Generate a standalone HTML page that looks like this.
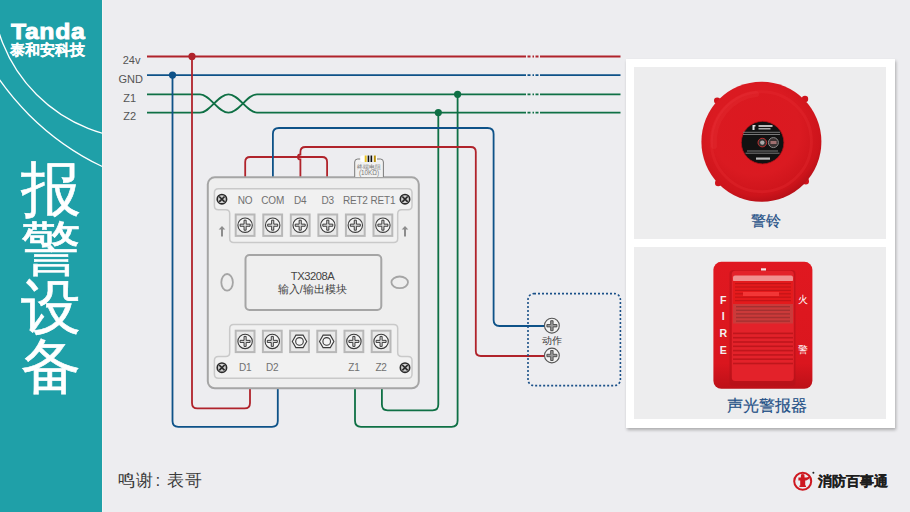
<!DOCTYPE html>
<html><head><meta charset="utf-8">
<style>
html,body{margin:0;padding:0;}
body{width:910px;height:512px;overflow:hidden;position:relative;background:#EDEDF0;font-family:"Liberation Sans",sans-serif;}
.side{position:absolute;left:0;top:0;width:102px;height:512px;background:#1FA0A8;overflow:hidden;}
.strip{position:absolute;left:102px;top:0;width:1px;height:512px;background:#F6F4F2;}
.abs{position:absolute;white-space:nowrap;}
.card{position:absolute;left:626px;top:58.6px;width:268.5px;height:369px;background:#fff;box-shadow:1px 2px 3px rgba(0,0,0,0.28);}
.panel{position:absolute;left:8px;width:252px;background:#EDEDEE;}
svg{position:absolute;left:0;top:0;}
</style></head>
<body>
<div class="side">
  <svg width="102" height="512" viewBox="0 0 102 512">
    <circle cx="144" cy="-13" r="152" fill="none" stroke="#fff" stroke-width="1.3"/>
    <circle cx="216.3" cy="-72.7" r="265" fill="none" stroke="#fff" stroke-width="1.3"/>
  </svg>
  <div class="abs" id="tanda" style="left:11px;top:18.3px;font-size:22.5px;font-weight:bold;color:#fff;letter-spacing:0.6px;line-height:28px;-webkit-text-stroke:0.9px #fff;transform:scaleX(1.1);transform-origin:0 0;">Tanda</div>
  <div class="abs" id="tah" style="left:10px;top:40.8px;font-size:15px;font-weight:bold;color:#fff;-webkit-text-stroke:0.2px #fff;line-height:18px;">泰和安科技</div>
  <div class="abs" id="title" style="left:20.5px;top:159.7px;font-size:60px;font-weight:400;color:#fff;-webkit-text-stroke:0.6px #fff;line-height:59.2px;width:62px;white-space:normal;">报警设备</div>
</div>
<div class="strip"></div>

<div class="card">
  <div class="panel" style="top:8.2px;height:172.2px;"></div>
  <div class="panel" style="top:188.4px;height:172.5px;"></div>
</div>

<svg id="diag" width="910" height="512" viewBox="0 0 910 512" font-family="Liberation Sans, sans-serif">
<path d="M147,56.5 H526 M527.5,56.5 H530.5 M532.5,56.5 H534 M535.5,56.5 H538.5 M540,56.5 H620.5" stroke="#B0232B" stroke-width="1.8" fill="none"/>
<path d="M147,75.19999999999999 H526 M527.5,75.19999999999999 H530.5 M532.5,75.19999999999999 H534 M535.5,75.19999999999999 H538.5 M540,75.19999999999999 H620.5" stroke="#0E5288" stroke-width="1.8" fill="none"/>
<path d="M147,94.4 H200 C210,94.4 218,112.6 228.5,112.6 C239,112.6 247,94.3 257,94.3 H526 M527.5,94.3 H530.5 M532.5,94.3 H534 M535.5,94.3 H538.5 M540,94.3 H620.5" stroke="#0F7045" stroke-width="1.8" fill="none"/>
<path d="M147,112.7 H200 C210,112.7 218,94.4 228.5,94.4 C239,94.4 247,112.6 257,112.6 H526 M527.5,112.6 H530.5 M532.5,112.6 H534 M535.5,112.6 H538.5 M540,112.6 H620.5" stroke="#0F7045" stroke-width="1.8" fill="none"/>
<text x="140.5" y="63.8" font-size="11" fill="#555" text-anchor="end" letter-spacing="0">24v</text>
<text x="143" y="82.8" font-size="11" fill="#555" text-anchor="end" letter-spacing="0">GND</text>
<text x="136" y="101.5" font-size="11" fill="#555" text-anchor="end" letter-spacing="0">Z1</text>
<text x="136" y="120" font-size="11" fill="#555" text-anchor="end" letter-spacing="0">Z2</text>
<path d="M192,56.4 V403 Q192,408.4 197.4,408.4 H244.6 Q250,408.4 250,403 V389" stroke="#B0232B" stroke-width="1.8" fill="none"/>
<path d="M172.5,75.1 V421 Q172.5,426.8 178.3,426.8 H272 Q277.8,426.8 277.8,421 V389" stroke="#0E5288" stroke-width="1.8" fill="none"/>
<path d="M457.6,94.3 V420.8 Q457.6,426.8 451.6,426.8 H361 Q355,426.8 355,420.8 V389" stroke="#0F7045" stroke-width="1.8" fill="none"/>
<path d="M438.3,112.6 V404.5 Q438.3,410.3 432.6,410.3 H387.6 Q381.9,410.3 381.9,404.5 V389" stroke="#0F7045" stroke-width="1.8" fill="none"/>
<circle cx="192" cy="56.4" r="3.6" fill="#B0232B"/>
<circle cx="172.5" cy="75.1" r="3.6" fill="#0E5288"/>
<circle cx="457.6" cy="94.3" r="3.6" fill="#0F7045"/>
<circle cx="438.3" cy="112.6" r="3.6" fill="#0F7045"/>
<path d="M245.2,177 V162 Q245.2,157 250.2,157 H322.1 Q327.1,157 327.1,162 V177" stroke="#B0232B" stroke-width="1.8" fill="none"/>
<path d="M300.4,177 V159.5 A2.5,2.5 0 0 1 300.4,154.5 V152 Q300.4,147 305.4,147 H470.8 Q475.8,147 475.8,152 V351 Q475.8,356 480.8,356 H545" stroke="#B0232B" stroke-width="1.8" fill="none"/>
<path d="M272.9,177 V134 Q272.9,128 278.9,128 H487.6 Q493.6,128 493.6,134 V320 Q493.6,326 499.6,326 H545" stroke="#0E5288" stroke-width="1.8" fill="none"/>
<rect x="207.8" y="177.3" width="211" height="211" rx="7" fill="#EEEEEE" stroke="#A5A5A5" stroke-width="2"/>
<path d="M218.5,188.8 H408 Q412,188.8 412,192.8 V205.8 Q412,209.8 408,209.8 H401.7 Q397.7,209.8 397.7,213.8 V238.6 Q397.7,242.6 393.7,242.6 H233.7 Q229.7,242.6 229.7,238.6 V213.8 Q229.7,209.8 225.7,209.8 H218.4 Q214.4,209.8 214.4,205.8 V192.8 Q214.4,188.8 218.4,188.8 Z" fill="#F1F1F1" stroke="#C9C9C9" stroke-width="1.5"/>
<path d="M233.7,324.4 H393.7 Q397.7,324.4 397.7,328.4 V352.4 Q397.7,356.4 401.7,356.4 H408 Q412,356.4 412,360.4 V374.3 Q412,378.3 408,378.3 H218.4 Q214.4,378.3 214.4,374.3 V360.4 Q214.4,356.4 218.4,356.4 H225.7 Q229.7,356.4 229.7,352.4 V328.4 Q229.7,324.4 233.7,324.4 Z" fill="#F1F1F1" stroke="#C9C9C9" stroke-width="1.5"/>
<text x="245.1" y="203.9" font-size="10" fill="#707070" text-anchor="middle" letter-spacing="-0.2">NO</text>
<rect x="235.7" y="214.5" width="18.8" height="21.4" fill="#E9E9E9" stroke="#B8B8B8" stroke-width="2"/>
<circle cx="245.1" cy="225.2" r="7.2" fill="#F4F4F4" stroke="#3A3A3A" stroke-width="1.1"/>
<path d="M244.04999999999998,220.2 H246.15 V224.14999999999998 H250.1 V226.25 H246.15 V230.2 H244.04999999999998 V226.25 H240.1 V224.14999999999998 H244.04999999999998 Z" fill="#DCDCDC" stroke="#2A2A2A" stroke-width="0.9"/>
<text x="272.7" y="203.9" font-size="10" fill="#707070" text-anchor="middle" letter-spacing="-0.2">COM</text>
<rect x="263.3" y="214.5" width="18.8" height="21.4" fill="#E9E9E9" stroke="#B8B8B8" stroke-width="2"/>
<circle cx="272.7" cy="225.2" r="7.2" fill="#F4F4F4" stroke="#3A3A3A" stroke-width="1.1"/>
<path d="M271.65,220.2 H273.75 V224.14999999999998 H277.7 V226.25 H273.75 V230.2 H271.65 V226.25 H267.7 V224.14999999999998 H271.65 Z" fill="#DCDCDC" stroke="#2A2A2A" stroke-width="0.9"/>
<text x="300.2" y="203.9" font-size="10" fill="#707070" text-anchor="middle" letter-spacing="-0.2">D4</text>
<rect x="290.8" y="214.5" width="18.8" height="21.4" fill="#E9E9E9" stroke="#B8B8B8" stroke-width="2"/>
<circle cx="300.2" cy="225.2" r="7.2" fill="#F4F4F4" stroke="#3A3A3A" stroke-width="1.1"/>
<path d="M299.15,220.2 H301.25 V224.14999999999998 H305.2 V226.25 H301.25 V230.2 H299.15 V226.25 H295.2 V224.14999999999998 H299.15 Z" fill="#DCDCDC" stroke="#2A2A2A" stroke-width="0.9"/>
<text x="327.8" y="203.9" font-size="10" fill="#707070" text-anchor="middle" letter-spacing="-0.2">D3</text>
<rect x="318.4" y="214.5" width="18.8" height="21.4" fill="#E9E9E9" stroke="#B8B8B8" stroke-width="2"/>
<circle cx="327.8" cy="225.2" r="7.2" fill="#F4F4F4" stroke="#3A3A3A" stroke-width="1.1"/>
<path d="M326.75,220.2 H328.85 V224.14999999999998 H332.8 V226.25 H328.85 V230.2 H326.75 V226.25 H322.8 V224.14999999999998 H326.75 Z" fill="#DCDCDC" stroke="#2A2A2A" stroke-width="0.9"/>
<text x="355.3" y="203.9" font-size="10" fill="#707070" text-anchor="middle" letter-spacing="-0.2">RET2</text>
<rect x="345.9" y="214.5" width="18.8" height="21.4" fill="#E9E9E9" stroke="#B8B8B8" stroke-width="2"/>
<circle cx="355.3" cy="225.2" r="7.2" fill="#F4F4F4" stroke="#3A3A3A" stroke-width="1.1"/>
<path d="M354.25,220.2 H356.35 V224.14999999999998 H360.3 V226.25 H356.35 V230.2 H354.25 V226.25 H350.3 V224.14999999999998 H354.25 Z" fill="#DCDCDC" stroke="#2A2A2A" stroke-width="0.9"/>
<text x="382.9" y="203.9" font-size="10" fill="#707070" text-anchor="middle" letter-spacing="-0.2">RET1</text>
<rect x="373.5" y="214.5" width="18.8" height="21.4" fill="#E9E9E9" stroke="#B8B8B8" stroke-width="2"/>
<circle cx="382.9" cy="225.2" r="7.2" fill="#F4F4F4" stroke="#3A3A3A" stroke-width="1.1"/>
<path d="M381.84999999999997,220.2 H383.95 V224.14999999999998 H387.9 V226.25 H383.95 V230.2 H381.84999999999997 V226.25 H377.9 V224.14999999999998 H381.84999999999997 Z" fill="#DCDCDC" stroke="#2A2A2A" stroke-width="0.9"/>
<rect x="235.7" y="330.7" width="18.8" height="21.4" fill="#E9E9E9" stroke="#B8B8B8" stroke-width="2"/>
<circle cx="245.1" cy="341.4" r="7.2" fill="#F4F4F4" stroke="#3A3A3A" stroke-width="1.1"/>
<path d="M244.04999999999998,336.4 H246.15 V340.34999999999997 H250.1 V342.45 H246.15 V346.4 H244.04999999999998 V342.45 H240.1 V340.34999999999997 H244.04999999999998 Z" fill="#DCDCDC" stroke="#2A2A2A" stroke-width="0.9"/>
<rect x="262.9" y="330.7" width="18.8" height="21.4" fill="#E9E9E9" stroke="#B8B8B8" stroke-width="2"/>
<circle cx="272.3" cy="341.4" r="7.2" fill="#F4F4F4" stroke="#3A3A3A" stroke-width="1.1"/>
<path d="M271.25,336.4 H273.35 V340.34999999999997 H277.3 V342.45 H273.35 V346.4 H271.25 V342.45 H267.3 V340.34999999999997 H271.25 Z" fill="#DCDCDC" stroke="#2A2A2A" stroke-width="0.9"/>
<rect x="290.1" y="330.7" width="18.8" height="21.4" fill="#E9E9E9" stroke="#B8B8B8" stroke-width="2"/>
<polygon points="306.70,341.40 303.10,347.64 295.90,347.64 292.30,341.40 295.90,335.16 303.10,335.16" fill="#F4F4F4" stroke="#3A3A3A" stroke-width="1.1"/>
<circle cx="299.5" cy="341.4" r="3.8" fill="none" stroke="#3A3A3A" stroke-width="1.1"/>
<rect x="317.3" y="330.7" width="18.8" height="21.4" fill="#E9E9E9" stroke="#B8B8B8" stroke-width="2"/>
<polygon points="333.90,341.40 330.30,347.64 323.10,347.64 319.50,341.40 323.10,335.16 330.30,335.16" fill="#F4F4F4" stroke="#3A3A3A" stroke-width="1.1"/>
<circle cx="326.7" cy="341.4" r="3.8" fill="none" stroke="#3A3A3A" stroke-width="1.1"/>
<rect x="344.5" y="330.7" width="18.8" height="21.4" fill="#E9E9E9" stroke="#B8B8B8" stroke-width="2"/>
<circle cx="353.9" cy="341.4" r="7.2" fill="#F4F4F4" stroke="#3A3A3A" stroke-width="1.1"/>
<path d="M352.84999999999997,336.4 H354.95 V340.34999999999997 H358.9 V342.45 H354.95 V346.4 H352.84999999999997 V342.45 H348.9 V340.34999999999997 H352.84999999999997 Z" fill="#DCDCDC" stroke="#2A2A2A" stroke-width="0.9"/>
<rect x="371.7" y="330.7" width="18.8" height="21.4" fill="#E9E9E9" stroke="#B8B8B8" stroke-width="2"/>
<circle cx="381.1" cy="341.4" r="7.2" fill="#F4F4F4" stroke="#3A3A3A" stroke-width="1.1"/>
<path d="M380.05,336.4 H382.15000000000003 V340.34999999999997 H386.1 V342.45 H382.15000000000003 V346.4 H380.05 V342.45 H376.1 V340.34999999999997 H380.05 Z" fill="#DCDCDC" stroke="#2A2A2A" stroke-width="0.9"/>
<text x="245.1" y="371.2" font-size="10" fill="#707070" text-anchor="middle" letter-spacing="-0.2">D1</text>
<text x="272.3" y="371.2" font-size="10" fill="#707070" text-anchor="middle" letter-spacing="-0.2">D2</text>
<text x="353.9" y="371.2" font-size="10" fill="#707070" text-anchor="middle" letter-spacing="-0.2">Z1</text>
<text x="381.1" y="371.2" font-size="10" fill="#707070" text-anchor="middle" letter-spacing="-0.2">Z2</text>
<circle cx="221.9" cy="199.2" r="4.7" fill="#D0D0D0" stroke="#2A2A2A" stroke-width="1.6"/><path d="M219.20000000000002,196.5 L224.6,201.89999999999998 M224.6,196.5 L219.20000000000002,201.89999999999998" stroke="#2A2A2A" stroke-width="1.7"/>
<circle cx="405" cy="199.2" r="4.7" fill="#D0D0D0" stroke="#2A2A2A" stroke-width="1.6"/><path d="M402.3,196.5 L407.7,201.89999999999998 M407.7,196.5 L402.3,201.89999999999998" stroke="#2A2A2A" stroke-width="1.7"/>
<circle cx="221.9" cy="367.7" r="4.7" fill="#D0D0D0" stroke="#2A2A2A" stroke-width="1.6"/><path d="M219.20000000000002,365.0 L224.6,370.4 M224.6,365.0 L219.20000000000002,370.4" stroke="#2A2A2A" stroke-width="1.7"/>
<circle cx="405" cy="367.7" r="4.7" fill="#D0D0D0" stroke="#2A2A2A" stroke-width="1.6"/><path d="M402.3,365.0 L407.7,370.4 M407.7,365.0 L402.3,370.4" stroke="#2A2A2A" stroke-width="1.7"/>
<path d="M222,236.6 V229" stroke="#8C8C8C" stroke-width="2" fill="none"/><path d="M218.7,229.4 L222,226 L225.3,229.4 Z" fill="#8C8C8C"/>
<path d="M405,236.6 V229" stroke="#8C8C8C" stroke-width="2" fill="none"/><path d="M401.7,229.4 L405,226 L408.3,229.4 Z" fill="#8C8C8C"/>
<rect x="245.5" y="255" width="135.8" height="55" rx="4" fill="#EFEFEF" stroke="#A5A5A5" stroke-width="2"/>
<ellipse cx="227.1" cy="282.3" rx="5.8" ry="8.3" fill="none" stroke="#A5A5A5" stroke-width="1.8"/>
<ellipse cx="399.7" cy="282.3" rx="8.3" ry="5.8" fill="none" stroke="#A5A5A5" stroke-width="1.8"/>
<text x="312.6" y="279.8" font-size="11.2" fill="#444" text-anchor="middle" letter-spacing="-0.45">TX3208A</text>
<text x="312.2" y="292.6" font-size="10.8" fill="#444" text-anchor="middle" letter-spacing="0">输入/输出模块</text>
<path d="M354.7,177 V162 Q354.7,159 357.7,159 H380.4 Q383.4,159 383.4,162 V177" fill="#F1F1F1" stroke="#7A7A7A" stroke-width="1"/>
<rect x="360.2" y="155.5" width="16.8" height="6.5" rx="2" fill="#FFFFFF"/>
<rect x="364.7" y="155.5" width="2" height="6.5" fill="#E8C020"/><rect x="367.6" y="155.5" width="1.7" height="6.5" fill="#111"/><rect x="370.5" y="155.5" width="1.7" height="6.5" fill="#111"/><rect x="373.8" y="155.5" width="2" height="6.5" fill="#B8900A"/>
<text x="369" y="168.6" font-size="6.3" fill="#7A7A7A" text-anchor="middle" letter-spacing="0">终端电阻</text>
<text x="369" y="175.4" font-size="6.3" fill="#7A7A7A" text-anchor="middle" letter-spacing="0">(10KΩ)</text>
<rect x="528" y="293.6" width="92.4" height="92" rx="6" fill="none" stroke="#1A5088" stroke-width="1.6" stroke-dasharray="2 2"/>
<circle cx="551.9" cy="325.7" r="7.4" fill="#F2F2F2" stroke="#555" stroke-width="1.1"/>
<path d="M550.6999999999999,320.7 H553.1 V324.5 H556.9 V326.9 H553.1 V330.7 H550.6999999999999 V326.9 H546.9 V324.5 H550.6999999999999 Z" fill="#9A9A9A" stroke="#484848" stroke-width="0.9"/>
<circle cx="551.9" cy="355.5" r="7.4" fill="#F2F2F2" stroke="#555" stroke-width="1.1"/>
<path d="M550.6999999999999,350.5 H553.1 V354.3 H556.9 V356.7 H553.1 V360.5 H550.6999999999999 V356.7 H546.9 V354.3 H550.6999999999999 Z" fill="#9A9A9A" stroke="#484848" stroke-width="0.9"/>
<text x="551.9" y="344.2" font-size="10.2" fill="#3C3C3C" text-anchor="middle" letter-spacing="0">动作</text>
<defs>
<radialGradient id="bellg" cx="0.45" cy="0.4" r="0.62">
 <stop offset="0" stop-color="#DC1820"/>
 <stop offset="0.6" stop-color="#DA1A21"/>
 <stop offset="0.88" stop-color="#CD141B"/>
 <stop offset="1" stop-color="#B50F17"/>
</radialGradient>
<linearGradient id="lensg" x1="0" y1="0" x2="0" y2="1">
 <stop offset="0" stop-color="#F7B0B0"/>
 <stop offset="0.12" stop-color="#F04848"/>
 <stop offset="0.35" stop-color="#E01818"/>
 <stop offset="0.6" stop-color="#D23030"/>
 <stop offset="1" stop-color="#C83838"/>
</linearGradient>
<linearGradient id="strg" x1="0" y1="0" x2="0" y2="1">
 <stop offset="0" stop-color="#E01820"/>
 <stop offset="0.8" stop-color="#DA161E"/>
 <stop offset="1" stop-color="#BC1018"/>
</linearGradient>
</defs>
<circle cx="717.2" cy="100.6" r="3.2" fill="#CF141B"/>
<circle cx="805" cy="99" r="3.2" fill="#CF141B"/>
<circle cx="718.2" cy="183" r="3.2" fill="#CF141B"/>
<circle cx="805.8" cy="181.2" r="3.2" fill="#CF141B"/>
<circle cx="761.4" cy="141.7" r="60" fill="url(#bellg)"/>
<circle cx="761.4" cy="141.7" r="50" fill="none" stroke="#E42A30" stroke-width="3" opacity="0.35"/>
<path d="M714,146 A48,48 0 0 1 756,94" fill="none" stroke="#FF6060" stroke-width="6" stroke-linecap="round" opacity="0.1"/>
<circle cx="762.6" cy="142.6" r="21.3" fill="#121212" stroke="#B50F16" stroke-width="0.8"/>
<path d="M752.5,125 h3 v1.5 h-1 v3.5 h-2 z" fill="#DDD"/><rect x="758.5" y="125" width="14" height="2" fill="#BBB"/><rect x="758.5" y="128" width="12" height="1.5" fill="#AAA"/>
<rect x="743" y="131.8" width="37" height="1" fill="#777"/><rect x="743" y="134" width="37" height="1" fill="#777"/>
<circle cx="762.3" cy="142.6" r="4.3" fill="#333" stroke="#C03030" stroke-width="1"/><circle cx="762.3" cy="142.6" r="2.2" fill="#AAA"/>
<circle cx="773.4" cy="142.6" r="5" fill="#3A3232" stroke="#888" stroke-width="1"/><rect x="770.5" y="141" width="6" height="3" fill="#A07070"/>
<rect x="747" y="150.5" width="31" height="1" fill="#777"/><rect x="745.5" y="152.7" width="34" height="1" fill="#777"/><rect x="756" y="157.5" width="14" height="2.2" fill="#BBB"/>
<text x="765.9" y="226" font-size="15" fill="#1F5086" stroke="#1F5086" stroke-width="0.2" text-anchor="middle">警铃</text>
<rect x="713.4" y="261.8" width="99" height="127" rx="8" fill="url(#strg)"/>
<rect x="729.5" y="270" width="66" height="116" rx="4" fill="#B0121A" opacity="0.55"/>
<rect x="731.8" y="270.8" width="62" height="110.2" rx="3.5" fill="#E3222A"/>
<rect x="761" y="268.3" width="5" height="2.2" fill="#F6E6E6"/>
<rect x="733" y="275.5" width="60" height="6.5" rx="2" fill="#F09090"/>
<rect x="733" y="281" width="60" height="23" fill="#E41A1C"/>
<rect x="735" y="283.0" width="56" height="1.2" fill="#A81014" opacity="0.55"/>
<rect x="735" y="286.4" width="56" height="1.2" fill="#A81014" opacity="0.55"/>
<rect x="735" y="289.8" width="56" height="1.2" fill="#A81014" opacity="0.55"/>
<rect x="735" y="293.2" width="56" height="1.2" fill="#A81014" opacity="0.55"/>
<rect x="735" y="296.6" width="56" height="1.2" fill="#A81014" opacity="0.55"/>
<rect x="735" y="300.0" width="56" height="1.2" fill="#A81014" opacity="0.55"/>
<rect x="743" y="292" width="36" height="4" fill="#F53A3A" opacity="0.9"/>
<rect x="733" y="304" width="60" height="19.5" fill="#CB3A3A"/>
<rect x="736" y="306.0" width="54" height="1.4" fill="#8A2A2A" opacity="0.6"/>
<rect x="736" y="309.6" width="54" height="1.4" fill="#8A2A2A" opacity="0.6"/>
<rect x="736" y="313.2" width="54" height="1.4" fill="#8A2A2A" opacity="0.6"/>
<rect x="736" y="316.8" width="54" height="1.4" fill="#8A2A2A" opacity="0.6"/>
<rect x="736" y="320.4" width="54" height="1.4" fill="#8A2A2A" opacity="0.6"/>
<rect x="733" y="332.6" width="60" height="1.6" fill="#B8141A" opacity="0.85"/>
<rect x="733" y="336.9" width="60" height="1.6" fill="#B8141A" opacity="0.85"/>
<rect x="733" y="341.2" width="60" height="1.6" fill="#B8141A" opacity="0.85"/>
<rect x="733" y="345.5" width="60" height="1.6" fill="#B8141A" opacity="0.85"/>
<rect x="733" y="349.8" width="60" height="1.6" fill="#B8141A" opacity="0.85"/>
<rect x="733" y="354.1" width="60" height="1.6" fill="#B8141A" opacity="0.85"/>
<rect x="733" y="358.4" width="60" height="1.6" fill="#B8141A" opacity="0.85"/>
<rect x="733" y="362.7" width="60" height="1.6" fill="#B8141A" opacity="0.85"/>
<text x="723.3" y="303.6" font-size="10.6" font-weight="bold" fill="#F4F0F0" text-anchor="middle">F</text>
<text x="723.3" y="320.4" font-size="10.6" font-weight="bold" fill="#F4F0F0" text-anchor="middle">I</text>
<text x="723.3" y="337.4" font-size="10.6" font-weight="bold" fill="#F4F0F0" text-anchor="middle">R</text>
<text x="723.3" y="353.8" font-size="10.6" font-weight="bold" fill="#F4F0F0" text-anchor="middle">E</text>
<text x="802.6" y="302.5" font-size="9.5" fill="#fff" text-anchor="middle">火</text>
<text x="802.6" y="353" font-size="9.5" fill="#fff" text-anchor="middle">警</text>
<text x="766.9" y="411" font-size="15.6" fill="#1F5086" stroke="#1F5086" stroke-width="0.2" text-anchor="middle">声光警报器</text>
<circle cx="802.7" cy="481.2" r="8.5" fill="none" stroke="#CE1820" stroke-width="2"/>
<path d="M801,474.6 Q802.7,473.4 804.4,474.6 L804.6,477.6 H806.3 Q808.5,477.3 809.8,475.2 L810.6,476.2 Q809.3,479.6 806.2,480.6 H805.2 V485.6 H806 V487 H799.4 V485.6 H800.2 V480.6 H798.4 V477.6 H800.8 Z" fill="#CE1820"/>
<circle cx="813.4" cy="472.8" r="1" fill="#222"/>
</svg>

<div class="abs" id="thanks" style="left:118.3px;top:470px;font-size:17.2px;color:#3A3A3A;line-height:20px;letter-spacing:0.6px;">鸣谢</div><div class="abs" style="left:155.5px;top:471px;font-size:17px;color:#3A3A3A;line-height:20px;">:</div><div class="abs" style="left:167px;top:470px;font-size:17.2px;color:#3A3A3A;line-height:20px;letter-spacing:0.6px;">表哥</div>
<div class="abs" id="xfbst" style="left:817.8px;top:472.3px;font-size:14.3px;font-weight:bold;color:#1E1E1E;line-height:18px;-webkit-text-stroke:0.2px #1E1E1E;">消防百事通</div>
</body></html>
